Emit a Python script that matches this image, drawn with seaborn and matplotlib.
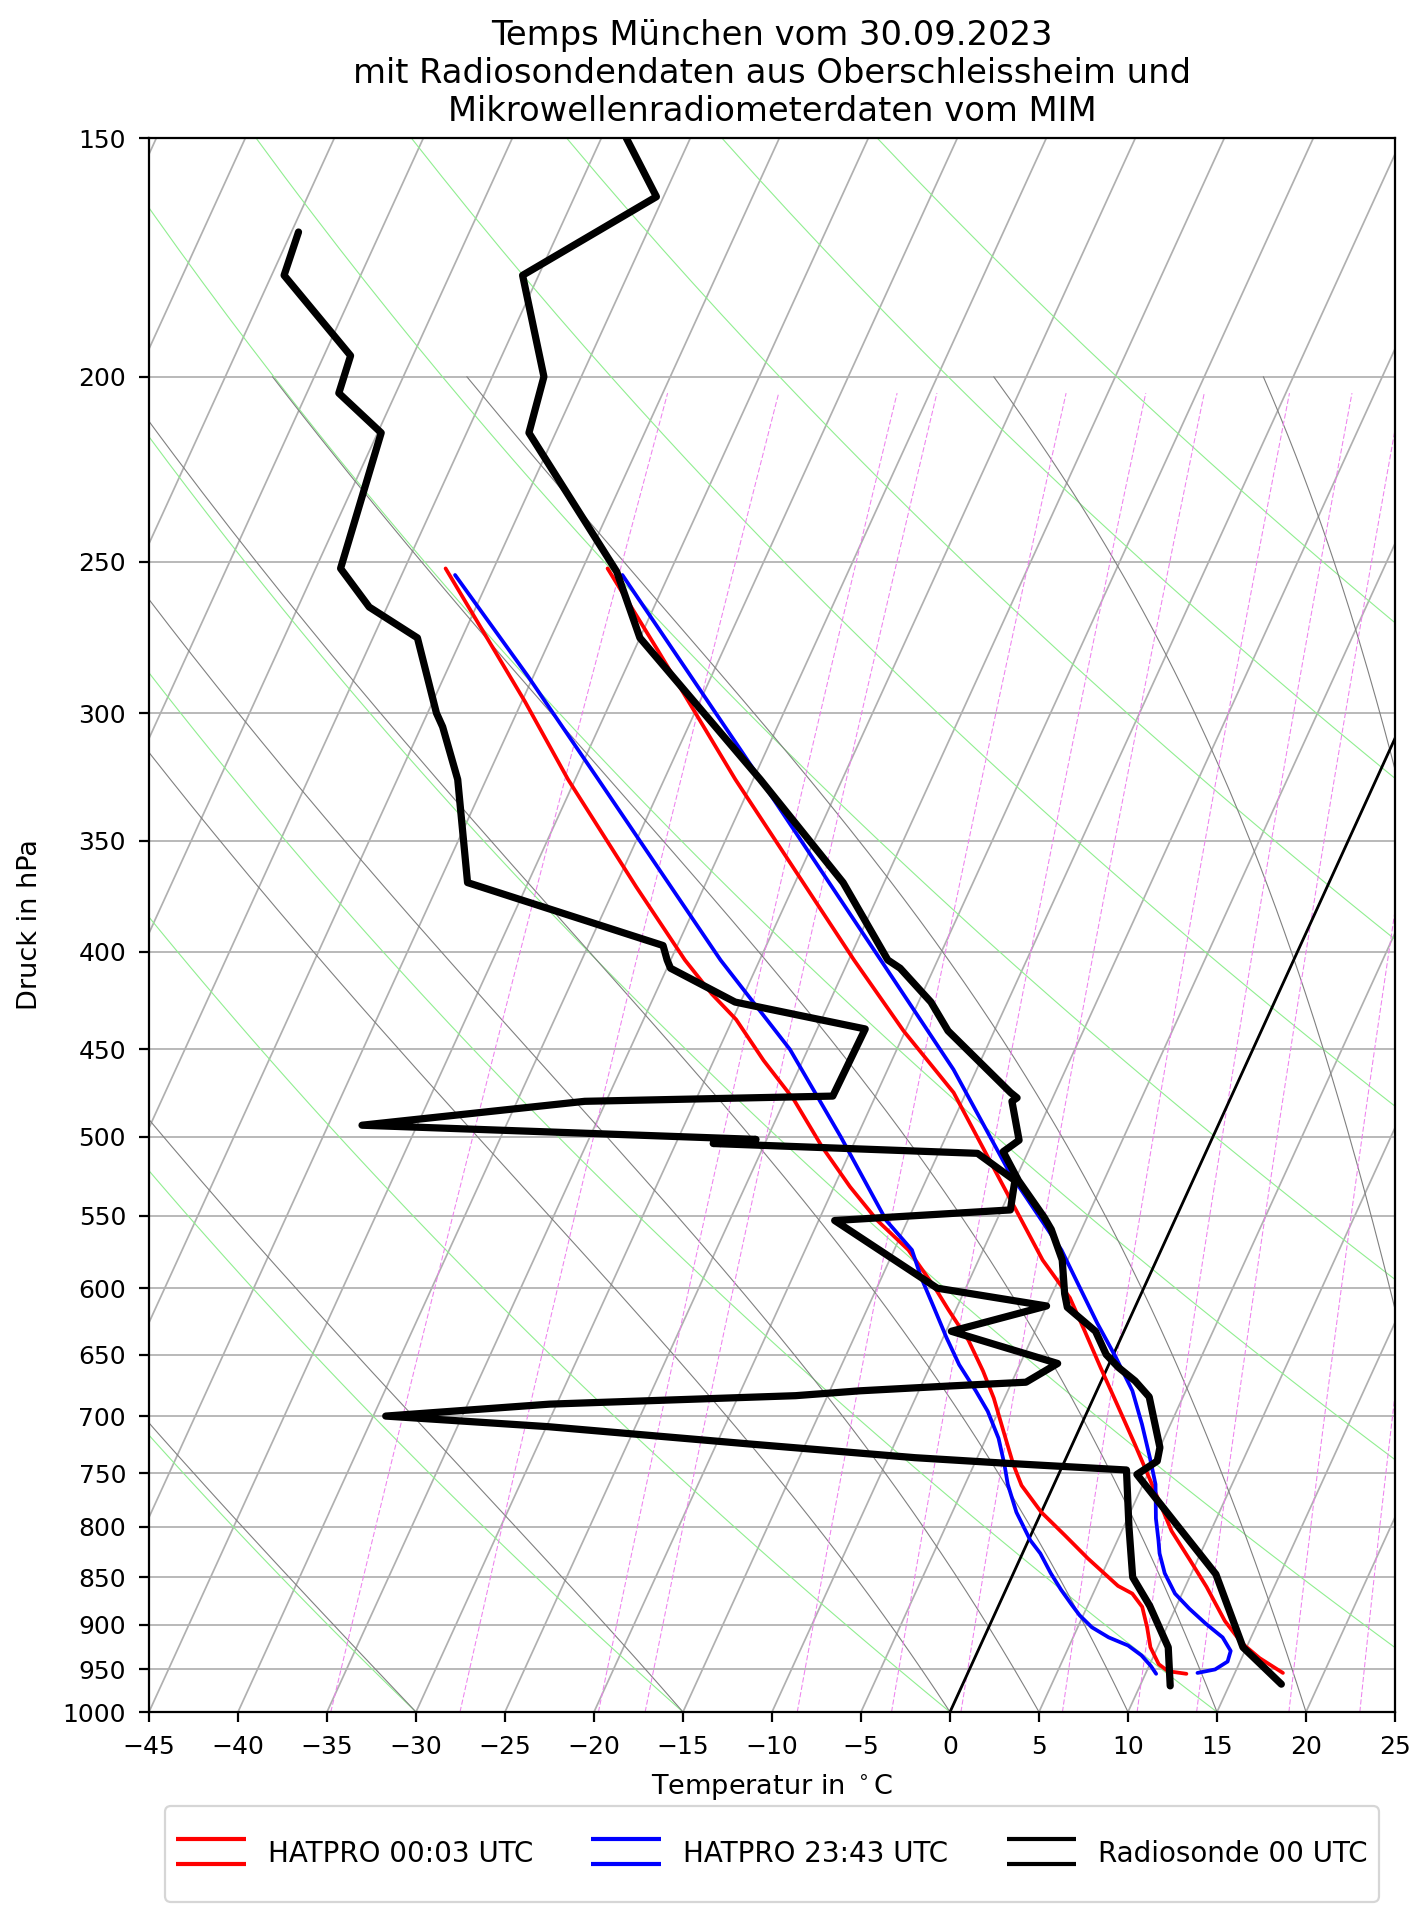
import numpy as np
import pandas as pd
import matplotlib

matplotlib.use("Agg")

import matplotlib.pyplot as plt
import matplotlib.transforms as mtransforms
from matplotlib.legend_handler import HandlerBase
from matplotlib.lines import Line2D
from matplotlib.ticker import FixedLocator, NullLocator, FormatStrFormatter
import seaborn as sns

# HATPRO 00:03 UTC (pressure hPa, temperature / dewpoint degC)
hat1_t_p = [954, 937, 920, 896, 860, 833, 804, 760, 724, 692, 660, 632, 607, 580,
            474, 440, 404, 325, 278, 252]
hat1_t = [17.7, 16.0, 14.6, 13.1, 11.2, 9.6, 7.8, 5.5, 3.5, 1.6, -0.4, -2.2, -3.9, -6.4,
          -15.7, -20.1, -24.7, -36.0, -43.7, -48.6]
hat1_td_p = [955, 952, 944, 925, 903, 881, 867, 859, 831, 808, 786, 761, 742, 713, 685,
             663, 639, 616, 599, 573, 553, 531, 506, 478, 456, 434, 421, 404, 370, 325,
             296, 252]
hat1_td = [12.3, 11.2, 10.5, 9.6, 8.9, 8.1, 7.2, 6.2, 3.8, 1.9, 0.0, -1.8, -2.8, -4.2, -5.6,
           -6.9, -8.5, -10.4, -11.8, -14.2, -16.7, -19.1, -21.7, -24.5, -27.2, -29.8,
           -31.8, -34.2, -38.8, -45.4, -49.8, -57.7]

# HATPRO 23:43 UTC
hat2_t_p = [954, 950, 941, 929, 914, 899, 883, 867, 846, 826, 813, 792, 760, 736, 707,
            679, 652, 626, 601, 573, 522, 461, 404, 314, 254]
hat2_t = [12.9, 13.8, 14.3, 14.2, 13.4, 12.1, 10.8, 9.6, 8.5, 7.7, 7.3, 6.6, 5.7, 4.7, 3.4,
          2.0, 0.2, -1.7, -3.5, -5.6, -10.5, -16.3, -23.2, -36.4, -47.6]
hat2_td_p = [955, 946, 934, 923, 914, 903, 890, 879, 863, 846, 826, 813, 786, 760, 742,
             719, 696, 679, 658, 637, 614, 592, 573, 553, 500, 450, 404, 325, 287, 254]
hat2_td = [10.6, 10.1, 9.3, 8.3, 7.0, 5.8, 4.8, 4.1, 3.1, 2.1, 1.0, 0.1, -1.4, -2.6, -3.3,
           -4.3, -5.6, -6.8, -8.4, -9.8, -11.3, -12.8, -14.0, -16.2, -20.9, -26.0, -32.2,
           -43.7, -50.3, -57.0]

# Radiosonde 00 UTC
sonde_t_p = [967, 925, 847, 751, 739, 727, 684, 671, 660, 650, 632, 614, 604, 580, 559,
             551, 527, 509, 502, 479, 477, 474, 440, 425, 408, 404, 368, 325, 274, 253,
             214, 200, 177, 161, 150]
sonde_t = [17.9, 14.8, 11.4, 4.4, 5.2, 5.0, 3.1, 1.9, 0.6, -0.4, -1.6, -3.8, -4.3, -5.3,
           -6.7, -7.4, -9.8, -11.4, -10.8, -12.2, -12.0, -12.5, -17.6, -19.3, -21.9,
           -22.8, -27.3, -34.6, -45.0, -48.0, -56.5, -57.1, -60.9, -55.4, -58.6]
sonde_td_p = [969, 925, 880, 850, 800, 747, 741, 736, 724, 709, 700, 690, 683, 679, 675,
              672, 657, 632, 613, 600, 553, 546, 527, 510, 504, 501.5, 493, 479, 476, 439,
              425, 408, 404, 397, 368, 325, 305, 300, 274, 264, 252, 214, 204, 195, 177,
              168]
sonde_td = [11.7, 10.6, 8.5, 6.8, 5.3, 3.7, -3.2, -8.5, -18.1, -29.9, -39.3, -30.4, -16.8,
            -13.3, -8.3, -4.2, -2.9, -9.7, -5.0, -11.6, -19.1, -9.5, -10.0, -12.8, -27.9,
            -25.6, -48.1, -36.2, -22.4, -22.3, -30.3, -34.8, -35.2, -35.8, -48.4, -51.6,
            -53.8, -54.5, -57.5, -61.0, -63.6, -64.8, -68.2, -68.5, -74.3, -74.6]

labels = ["HATPRO 00:03 UTC", "HATPRO 23:43 UTC", "Radiosonde 00 UTC"]
colors = ["red", "blue", "black"]

# background lines of the diagram
dry_t0 = np.arange(-45, 121, 15)
moist_t0 = [-45, -30, -15, 0, 5, 10, 15, 20, 30, 35]
mixing_gkg = [0.2, 0.4, 0.8, 1, 2, 3, 4, 6, 8, 10, 14, 18]

RD = 287.04749
CP = 1004.6662
LV = 2.50084e6
EPS = 0.6219569


def moist_adiabats(t0, pres):
    t = np.asarray(t0, dtype=float) + 273.15
    out = [t]

    def rate(p, tk):
        es = 6.112 * np.exp(17.67 * (tk - 273.15) / (tk - 29.65))
        rs = EPS * es / (p - es)
        return (RD * tk + LV * rs) / (CP + LV * LV * rs * EPS / (RD * tk * tk)) / p

    for p0, p1 in zip(pres[:-1], pres[1:]):
        h = p1 - p0
        k1 = rate(p0, t)
        k2 = rate(p0 + h / 2, t + h / 2 * k1)
        k3 = rate(p0 + h / 2, t + h / 2 * k2)
        k4 = rate(p1, t + h * k3)
        t = t + h / 6 * (k1 + 2 * k2 + 2 * k3 + k4)
        out.append(t)
    return np.array(out) - 273.15


def mixing_dewpoint(w, pres):
    e = pres * w / (EPS + w)
    val = np.log(e / 6.112)
    return 243.5 * val / (17.67 - val)


class TwinLineHandler(HandlerBase):
    def create_artists(self, legend, orig_handle, xdescent, ydescent, width, height,
                       fontsize, trans):
        yc = 0.36 * fontsize
        gap = 0.45 * fontsize
        arts = []
        for dy in (-gap, gap):
            arts.append(Line2D([-xdescent, -xdescent + width], [yc + dy, yc + dy],
                               color=orig_handle.get_color(),
                               lw=orig_handle.get_linewidth(),
                               solid_capstyle="butt", transform=trans))
        return arts


def draw_profile(ax, temps, pres, color, lw, trans, z):
    frame = pd.DataFrame({"temperature": temps, "pressure": pres})
    sns.lineplot(data=frame, x="temperature", y="pressure", sort=False, estimator=None,
                 color=color, linewidth=lw, transform=trans, ax=ax, legend=False,
                 zorder=z)


def main():
    sns.set_theme(style="ticks", rc={
        "axes.edgecolor": "black",
        "axes.labelcolor": "black",
        "text.color": "black",
        "xtick.color": "black",
        "ytick.color": "black",
        "axes.linewidth": 1.6,
    })
    plt.rcParams["font.family"] = ["DejaVu Sans"]

    fig = plt.figure(figsize=(14.27, 19.07), dpi=100)
    ax = fig.add_axes([149 / 1427, 1 - 1712 / 1907, 1246 / 1427, 1574 / 1907])
    ax.set_yscale("log")
    ax.set_xlim(-45, 25)
    ax.set_ylim(1000, 150)
    skew = (ax.transScale + ax.transLimits
            + mtransforms.Affine2D().skew_deg(30, 0) + ax.transAxes)

    for t in np.arange(-90, 30, 5):
        ax.plot([t, t], [1000, 150], color="#b0b0b0", lw=1.25, transform=skew, zorder=1)

    p_dry = np.linspace(1000, 150, 120)
    for t0 in dry_t0:
        t = (t0 + 273.15) * (p_dry / 1000.0) ** (RD / CP) - 273.15
        ax.plot(t, p_dry, color="#90ee90", lw=0.8, transform=skew, zorder=1.5)

    p_moist = np.linspace(1000, 200, 161)
    moist = moist_adiabats(moist_t0, p_moist)
    for i in range(moist.shape[1]):
        ax.plot(moist[:, i], p_moist, color="#808080", lw=0.8, transform=skew, zorder=1.5)

    p_mix = np.linspace(1000, 204, 80)
    for w in mixing_gkg:
        td = mixing_dewpoint(w / 1000.0, p_mix)
        ax.plot(td, p_mix, color="violet", lw=0.75, ls=(0, (5.0, 2.2)), transform=skew,
                zorder=1.6)

    ax.plot([0, 0], [1000, 150], color="black", lw=2.0, transform=skew, zorder=2)

    draw_profile(ax, hat1_t, hat1_t_p, colors[0], 2.7, skew, 3)
    draw_profile(ax, hat1_td, hat1_td_p, colors[0], 2.7, skew, 3)
    draw_profile(ax, hat2_t, hat2_t_p, colors[1], 2.7, skew, 3.1)
    draw_profile(ax, hat2_td, hat2_td_p, colors[1], 2.7, skew, 3.1)
    draw_profile(ax, sonde_t, sonde_t_p, colors[2], 5.2, skew, 3.2)
    draw_profile(ax, sonde_td, sonde_td_p, colors[2], 5.2, skew, 3.2)

    ax.set_xlim(-45, 25)
    ax.set_ylim(1000, 150)
    ax.xaxis.set_major_locator(FixedLocator(np.arange(-45, 26, 5)))
    ax.yaxis.set_major_locator(FixedLocator(np.arange(150, 1001, 50)))
    ax.yaxis.set_minor_locator(NullLocator())
    ax.yaxis.set_major_formatter(FormatStrFormatter("%d"))
    ax.yaxis.grid(True, color="#b0b0b0", lw=1.25)
    ax.xaxis.grid(False)
    ax.set_axisbelow(True)
    ax.tick_params(axis="both", which="major", labelsize=18, length=7, width=1.6, pad=9.5)

    ax.set_xlabel(r"Temperatur in $^\circ$C", fontsize=19.5)
    ax.set_ylabel("Druck in hPa", fontsize=19.5)
    ax.xaxis.set_label_coords(0.5, (1712 - 1772) / 1574)
    ax.yaxis.set_label_coords((42.7 - 149) / 1246, 0.5)
    ax.set_title("Temps München vom 30.09.2023\n"
                 "mit Radiosondendaten aus Oberschleissheim und\n"
                 "Mikrowellenradiometerdaten vom MIM", fontsize=24.3, pad=12)

    handles = [Line2D([], [], color=c, lw=3.0) for c in colors]
    leg = fig.legend(handles, labels, loc="upper center",
                     bbox_to_anchor=(772 / 1427, 1 - 1806 / 1907), ncol=3, fontsize=20,
                     handlelength=2.5, handleheight=3.7, columnspacing=2.1,
                     borderaxespad=0, handler_map={Line2D: TwinLineHandler()})
    leg.get_frame().set_linewidth(1.6)

    fig.savefig("out.png", dpi=100)


if __name__ == "__main__":
    main()
